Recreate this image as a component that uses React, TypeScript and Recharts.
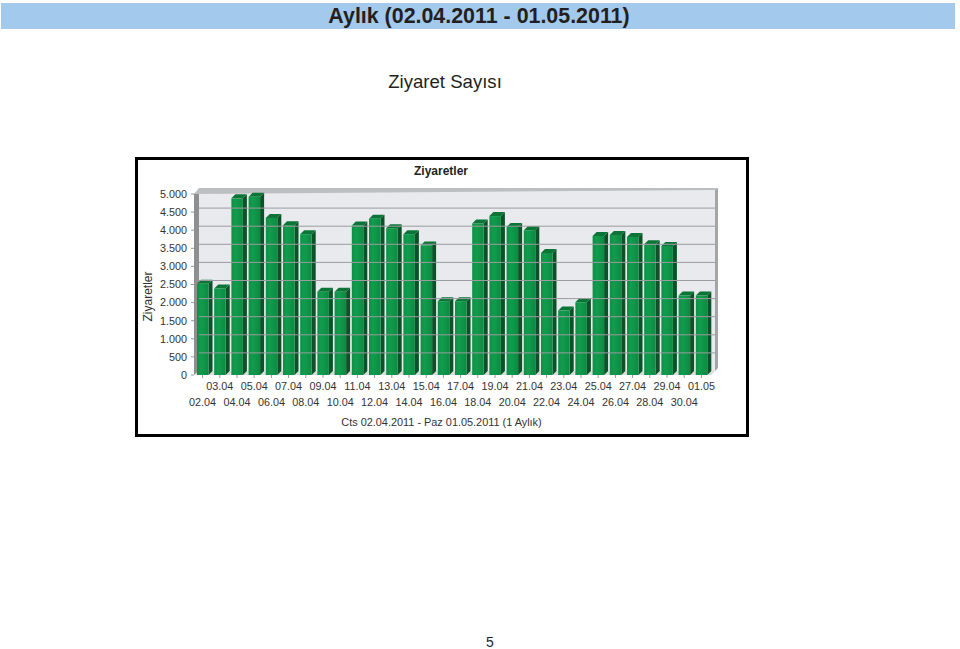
import React from 'react';
import { ComposedChart, Bar, XAxis, YAxis, ReferenceArea, ReferenceLine } from 'recharts';

const dates = ['02.04','03.04','04.04','05.04','06.04','07.04','08.04','09.04','10.04','11.04','12.04','13.04','14.04','15.04','16.04','17.04','18.04','19.04','20.04','21.04','22.04','23.04','24.04','25.04','26.04','27.04','28.04','29.04','30.04','01.05'];
const visits = [2520,2390,4880,4925,4340,4140,3890,2300,2300,4130,4315,4055,3890,3575,2040,2040,4185,4390,4090,4000,3370,1780,2010,3840,3870,3815,3610,3565,2195,2195];
const yTicks = [0,500,1000,1500,2000,2500,3000,3500,4000,4500,5000];
const gridValues = [500,1000,1500,2000,2500,3000,3500,4000,4500];
const rows = dates.map((d, i) => ({ date: d, visits: visits[i] }));

const FONT = '"Liberation Sans", Arial, sans-serif';
const DX = 5, DY = 4;
const BAR_DX = 4, BAR_DY = 4;

const fmt = (v: number) => (v >= 1000 ? `${Math.floor(v / 1000)}.${String(v % 1000).padStart(3, '0')}` : String(v));

const Bar3D = (p: any) => {
  const { x, y, width, height } = p;
  const b = y + height, r = x + width;
  return (
    <g>
      <polygon points={`${r},${y} ${r + BAR_DX},${y - BAR_DY} ${r + BAR_DX},${b - BAR_DY} ${r},${b}`} fill="#0c5128" />
      <polygon points={`${x},${y} ${x + BAR_DX},${y - BAR_DY} ${r + BAR_DX},${y - BAR_DY} ${r},${y}`} fill="#0b7437" />
      <rect x={x} y={y} width={width} height={height} fill="url(#barFront)" />
    </g>
  );
};

const Walls = (p: any) => {
  const { x, y, width, height } = p;
  const b = y + height, r = x + width;
  return (
    <g>
      <rect x={x + DX} y={y - DY} width={width} height={height} fill="#e8eaed" />
      <polygon points={`${x},${y} ${x + DX},${y - DY} ${x + DX},${b - DY} ${x},${b}`} fill="#8d8f91" />
      <polygon points={`${x + 1},${b} ${x + DX},${b - DY} ${r + DX},${b - DY} ${r + 1},${b}`} fill="#d9dbdc" />
      <polygon points={`${x},${y} ${x + DX},${y - DY - 2} ${r + DX + 3},${y - DY - 2} ${r + DX},${y - DY}`} fill="#bcbec0" />
      <polygon points={`${r + DX},${y - DY} ${r + DX + 3},${y - DY - 2} ${r + DX + 3},${b - DY - 3} ${r + 1},${b} ${r + DX},${b - DY}`} fill="#a3a5a7" />
    </g>
  );
};

const GridLine = (p: any) => (
  <line x1={p.x1 + DX} x2={p.x2 + DX} y1={p.y1 - DY} y2={p.y2 - DY} stroke="#9a9c9f" strokeWidth={1} />
);

const XTick = (p: any) => {
  const { x, y, index, payload } = p;
  const upper = index % 2 === 1;
  return (
    <text x={x} y={upper ? y + 10 : y + 26} textAnchor="middle" fontSize={10.8} fontFamily={FONT} fill="#333">
      {payload.value}
    </text>
  );
};

const textBase: React.CSSProperties = { position: 'absolute', fontFamily: FONT, whiteSpace: 'nowrap', color: '#231f20', lineHeight: 1 };

export default function App() {
  return (
    <div style={{ position: 'absolute', left: 0, top: 0, width: 960, height: 649, background: '#fff', overflow: 'hidden' }}>
      <div style={{ position: 'absolute', left: 1, top: 3, width: 954, height: 26, background: '#a3c9ec' }} />
      <div style={{ ...textBase, left: 0, width: 958, top: 6, fontSize: 21.4, fontWeight: 700, textAlign: 'center' }}>Aylık (02.04.2011 - 01.05.2011)</div>
      <div style={{ ...textBase, left: 345, width: 200, top: 73, fontSize: 18.6, textAlign: 'center' }}>Ziyaret Sayısı</div>
      <div style={{ position: 'absolute', left: 135, top: 157, width: 608, height: 274, border: '3px solid #000' }} />
      <div style={{ ...textBase, left: 341, width: 200, top: 165, fontSize: 12, fontWeight: 700, textAlign: 'center' }}>Ziyaretler</div>
      <div style={{ ...textBase, left: 465, width: 50, top: 635, fontSize: 14, textAlign: 'center' }}>5</div>
      <div style={{ position: 'absolute', left: 0, top: 0 }}>
        <ComposedChart width={960} height={649} data={rows} barSize={11.5} margin={{ top: 194, left: 134, right: 250, bottom: 224 }}>
          <defs>
            <linearGradient id="barFront" x1="0" x2="1" y1="0" y2="0">
              <stop offset="0" stopColor="#0e8f45" />
              <stop offset="0.35" stopColor="#119c4d" />
              <stop offset="1" stopColor="#0d8a42" />
            </linearGradient>
          </defs>
          <ReferenceArea y1={0} y2={5000} shape={Walls} ifOverflow="visible" />
          {gridValues.map((v) => (
            <ReferenceLine key={v} y={v} shape={GridLine} ifOverflow="visible" />
          ))}
          <XAxis
            dataKey="date"
            height={50}
            interval={0}
            tick={XTick}
            axisLine={false}
            tickLine={{ stroke: '#999' }}
            tickSize={3}
            label={{ value: 'Cts 02.04.2011 - Paz 01.05.2011 (1 Aylık)', position: 'insideBottom', dx: -10.5, dy: 6, fontSize: 10.9, fontFamily: FONT, fill: '#333' }}
          />
          <YAxis
            width={60}
            domain={[0, 5000]}
            ticks={yTicks}
            interval={0}
            tickFormatter={fmt}
            axisLine={false}
            tickLine={{ stroke: '#999' }}
            tickSize={3}
            tickMargin={4}
            tick={{ fontSize: 10.8, fontFamily: FONT, fill: '#333' }}
            label={{ value: 'Ziyaretler', angle: -90, position: 'insideLeft', dx: 9, dy: 37, fontSize: 12, fontFamily: FONT, fill: '#333' }}
          />
          <Bar dataKey="visits" shape={Bar3D} isAnimationActive={false} />
        </ComposedChart>
      </div>
    </div>
  );
}
